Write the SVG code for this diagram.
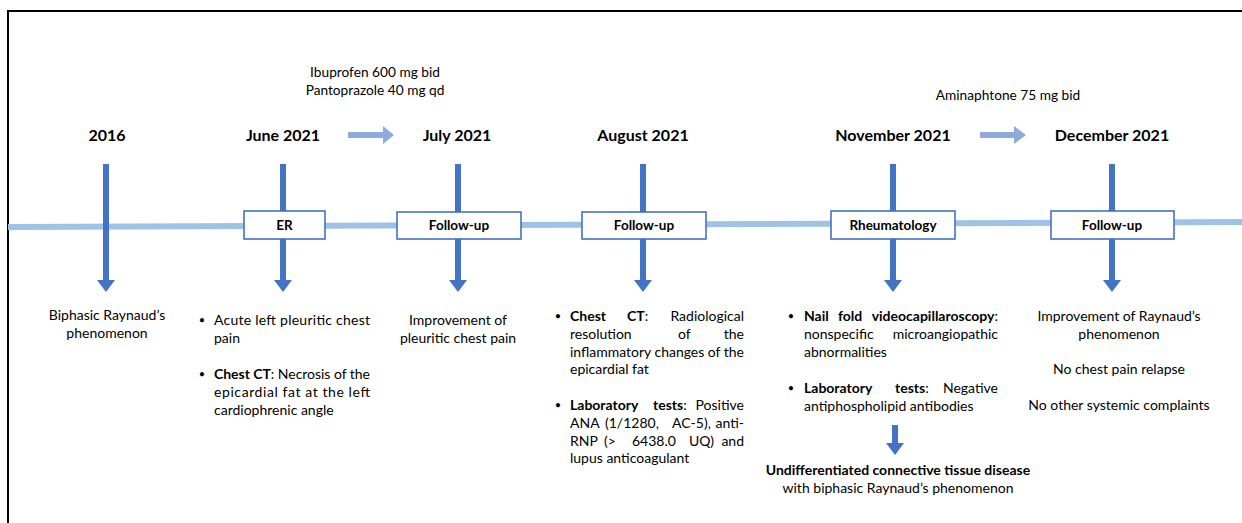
<svg xmlns="http://www.w3.org/2000/svg" xmlns:xlink="http://www.w3.org/1999/xlink" width="1242" height="523" viewBox="0 0 1242 523">
<style>
text{font-family:Lato,"Open Sans","Liberation Sans",sans-serif;fill:#000;}
.hd{font-size:16px;font-weight:700;text-anchor:middle;}
.bx{fill:#fff;stroke:#4472C4;stroke-width:1.6;}
.bl{font-size:13.5px;font-weight:700;text-anchor:middle;}
.t{font-size:14px;}
.m{font-size:13.7px;text-anchor:middle;}
.c{text-anchor:middle;}
.b{font-weight:700;}
.e{text-anchor:end;}
.dot{font-size:11px;text-anchor:middle;}
.va{fill:#4472C4;}
.ha{fill:#8FAADC;}
</style>
<defs>
<path id="varrow" d="M-3,0 H3 V116 H9 L0,128 L-9,116 H-3 Z"/>
</defs>
<rect x="0" y="0" width="1242" height="523" fill="#fff"/>
<rect x="8" y="11" width="1300" height="600" fill="none" stroke="#000" stroke-width="2"/>
<g id="connectors">
<line x1="8" y1="227" x2="1242" y2="222" stroke="#9DC3E6" stroke-width="6"/>
<use xlink:href="#varrow" class="va" x="106" y="164"/>
<use xlink:href="#varrow" class="va" x="283" y="164"/>
<use xlink:href="#varrow" class="va" x="458" y="164"/>
<use xlink:href="#varrow" class="va" x="643" y="164"/>
<use xlink:href="#varrow" class="va" x="893" y="164"/>
<use xlink:href="#varrow" class="va" x="1112" y="164"/>
<path class="va" d="M892,425 H898 V443 H904 L895,455 L886,443 H892 Z"/>
<path class="ha" d="M348,132 H383 V126 L394,135 L383,144 V138 H348 Z"/>
<path class="ha" d="M980,132 H1014 V126 L1026,135 L1014,144 V138 H980 Z"/>
</g>
<g id="med1">
<text class="m" x="375" y="77">Ibuprofen 600 mg bid</text>
<text class="m" x="375" y="95">Pantoprazole 40 mg qd</text>
</g>
<g id="med2">
<text class="m" x="1008" y="100">Aminaphtone 75 mg bid</text>
</g>
<g id="n2016">
<text class="hd" x="107" y="141">2016</text>
<text class="t c" x="107" y="320">Biphasic Raynaud’s</text>
<text class="t c" x="107" y="338">phenomenon</text>
</g>
<g id="njune">
<text class="hd" x="283" y="141">June 2021</text>
<rect class="bx" x="244" y="211" width="81" height="28"/>
<text class="bl" x="284.5" y="230">ER</text>
<text class="dot" x="202" y="324">•</text>
<text class="t" x="214" y="325" textLength="156" lengthAdjust="spacing">Acute left pleuritic chest</text>
<text class="t" x="214" y="343">pain</text>
<text class="dot" x="202" y="378">•</text>
<text class="t" x="214" y="379" textLength="156" lengthAdjust="spacing"><tspan class="b">Chest CT</tspan>: Necrosis of the</text>
<text class="t" x="214" y="397" textLength="156" lengthAdjust="spacing">epicardial fat at the left</text>
<text class="t" x="214" y="415">cardiophrenic angle</text>
</g>
<g id="njuly">
<text class="hd" x="457" y="141">July 2021</text>
<rect class="bx" x="397" y="212" width="124" height="27"/>
<text class="bl" x="459" y="230">Follow-up</text>
<text class="t c" x="458" y="325">Improvement of</text>
<text class="t c" x="458" y="343">pleuritic chest pain</text>
</g>
<g id="naugust">
<text class="hd" x="643" y="141">August 2021</text>
<rect class="bx" x="582" y="212" width="124" height="27"/>
<text class="bl" x="644" y="230">Follow-up</text>
<text class="dot" x="558" y="320">•</text>
<text class="t" y="321"><tspan x="570" class="b">Chest</tspan><tspan x="627" class="b">CT</tspan><tspan>:</tspan><tspan x="744" class="e">Radiological</tspan></text>
<text class="t" y="339"><tspan x="570">resolution</tspan><tspan x="678">of</tspan><tspan x="744" class="e">the</tspan></text>
<text class="t" x="570" y="357" textLength="174" lengthAdjust="spacing">inflammatory changes of the</text>
<text class="t" x="570" y="374">epicardial fat</text>
<text class="dot" x="558" y="409">•</text>
<text class="t" y="410"><tspan x="570" class="b">Laboratory</tspan><tspan x="653" class="b">tests</tspan><tspan>:</tspan><tspan x="744" class="e">Positive</tspan></text>
<text class="t" y="428"><tspan x="570">ANA</tspan><tspan x="605">(1/1280,</tspan><tspan x="672">AC-5),</tspan><tspan x="744" class="e">anti-</tspan></text>
<text class="t" y="446"><tspan x="570">RNP</tspan><tspan x="604">(&gt;</tspan><tspan x="632">6438.0</tspan><tspan x="689">UQ)</tspan><tspan x="744" class="e">and</tspan></text>
<text class="t" x="570" y="463">lupus anticoagulant</text>
</g>
<g id="nnovember">
<text class="hd" x="893" y="141">November 2021</text>
<rect class="bx" x="831" y="211" width="124" height="28"/>
<text class="bl" x="893" y="230">Rheumatology</text>
<text class="dot" x="791" y="320">•</text>
<text class="t" y="321"><tspan x="804" class="b">Nail</tspan><tspan x="838" class="b">fold</tspan><tspan x="998" class="e b">videocapillaroscopy</tspan><tspan>:</tspan></text>
<text class="t" y="339"><tspan x="804">nonspecific</tspan><tspan x="998" class="e">microangiopathic</tspan></text>
<text class="t" x="804" y="357">abnormalities</text>
<text class="dot" x="791" y="392">•</text>
<text class="t" y="393"><tspan x="804" class="b">Laboratory</tspan><tspan x="895" class="b">tests</tspan><tspan>:</tspan><tspan x="998" class="e">Negative</tspan></text>
<text class="t" x="804" y="411">antiphospholipid antibodies</text>
<text class="t c b" x="898" y="475">Undifferentiated connective tissue disease</text>
<text class="t c" x="898" y="493">with biphasic Raynaud’s phenomenon</text>
</g>
<g id="ndecember">
<text class="hd" x="1112" y="141">December 2021</text>
<rect class="bx" x="1051" y="211" width="123" height="28"/>
<text class="bl" x="1112" y="230">Follow-up</text>
<text class="t c" x="1119" y="321">Improvement of Raynaud’s</text>
<text class="t c" x="1119" y="339">phenomenon</text>
<text class="t c" x="1119" y="374">No chest pain relapse</text>
<text class="t c" x="1119" y="410">No other systemic complaints</text>
</g>
</svg>
